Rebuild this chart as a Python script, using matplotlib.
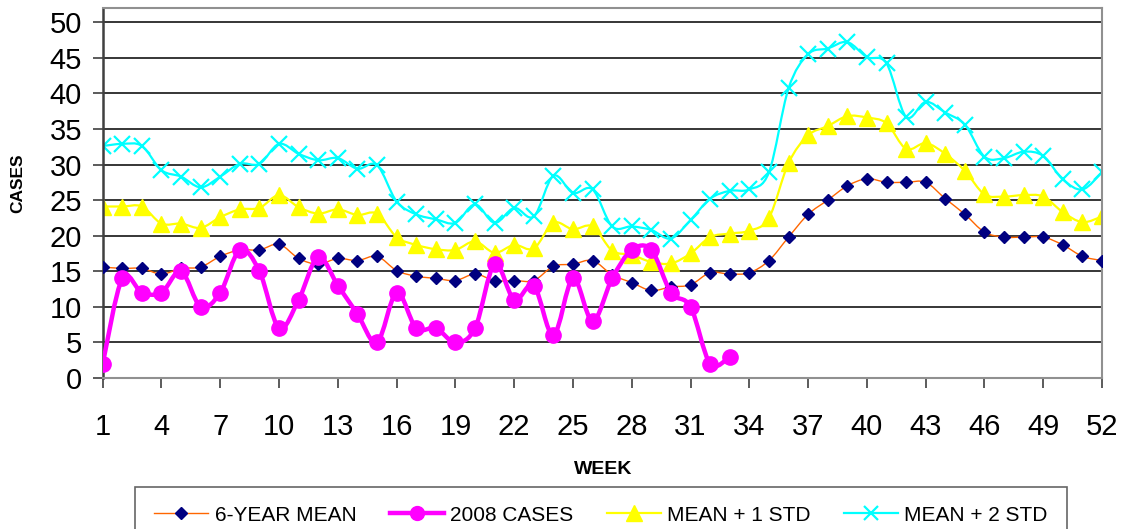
import numpy as np
import matplotlib
matplotlib.use("Agg")
import matplotlib.pyplot as plt
from matplotlib.path import Path
from matplotlib.patches import PathPatch
from matplotlib.lines import Line2D

plt.rcParams["font.family"] = ["Liberation Sans", "DejaVu Sans"]

# ── data ────────────────────────────────────────────────────────────────────
weeks = list(range(1, 53))

mean_6yr = [15.6, 15.4, 15.4, 14.6, 15.4, 15.6, 17.1, 18.0, 18.0, 18.8,
            16.8, 16.0, 16.8, 16.5, 17.1, 15.1, 14.3, 14.0, 13.7, 14.6,
            13.7, 13.7, 13.7, 15.7, 16.0, 16.5, 14.5, 13.4, 12.3, 12.8,
            13.1, 14.8, 14.6, 14.8, 16.5, 19.8, 23.0, 25.0, 27.0, 28.0,
            27.5, 27.5, 27.5, 25.2, 23.0, 20.5, 19.8, 19.8, 19.8, 18.7,
            17.1, 16.5]

mean_1std = [24.1, 24.1, 24.1, 21.7, 21.7, 21.1, 22.6, 23.7, 23.9, 25.7,
             24.0, 23.1, 23.7, 22.9, 23.1, 19.8, 18.7, 18.1, 18.0, 19.2,
             17.6, 18.7, 18.2, 21.8, 20.9, 21.3, 17.9, 17.3, 16.3, 16.1,
             17.5, 19.8, 20.3, 20.7, 22.5, 30.2, 34.1, 35.4, 36.8, 36.6,
             35.8, 32.2, 33.0, 31.5, 29.1, 25.8, 25.5, 25.7, 25.5, 23.3,
             21.9, 22.7]

mean_2std = [32.6, 32.9, 32.6, 29.2, 28.3, 26.8, 28.3, 30.1, 30.1, 32.9,
             31.5, 30.6, 30.9, 29.4, 29.9, 24.8, 23.0, 22.3, 21.8, 24.4,
             21.8, 23.9, 22.7, 28.4, 26.0, 26.5, 21.3, 21.3, 20.8, 19.6,
             22.2, 25.2, 26.3, 26.5, 28.9, 40.7, 45.5, 46.3, 47.2, 45.1,
             44.2, 36.7, 38.8, 37.3, 35.6, 31.1, 30.9, 31.8, 31.2, 27.9,
             26.5, 28.9]

weeks_2008 = list(range(1, 34))
cases_2008 = [2, 14, 12, 12, 15, 10, 12, 18, 15, 7,
              11, 17, 13, 9, 5, 12, 7, 7, 5, 7,
              16, 11, 13, 6, 14, 8, 14, 18, 18, 12,
              10, 2, 3]

x_ticks = list(range(1, 53, 3))
y_ticks = list(range(0, 51, 5))


def smooth_path(x, y):
    """Excel-style smoothed line: cubic Bezier through every point."""
    p = np.column_stack([x, y]).astype(float)
    n = len(p)
    verts = [p[0]]
    codes = [Path.MOVETO]
    for i in range(n - 1):
        p0 = p[i - 1] if i > 0 else p[i]
        p3 = p[i + 2] if i + 2 < n else p[i + 1]
        c1 = p[i] + (p[i + 1] - p0) / 6.0
        c2 = p[i + 1] - (p3 - p[i]) / 6.0
        verts += [c1, c2, p[i + 1]]
        codes += [Path.CURVE4] * 3
    return Path(verts, codes)


def smooth_line(ax, x, y, color, lw, marker, ms, mfc, mec, mew=1.0, z=2):
    ax.add_patch(PathPatch(smooth_path(x, y), facecolor="none",
                           edgecolor=color, lw=lw, zorder=z))
    ax.plot(x, y, linestyle="none", marker=marker, ms=ms,
            mfc=mfc, mec=mec, mew=mew, zorder=z + 0.5)


fig = plt.figure(figsize=(11.25, 5.29), dpi=100)
ax = fig.add_axes([0.0913, 0.2854, 0.9796 - 0.0913, 0.985 - 0.2854])

smooth_line(ax, weeks, mean_2std, "#00FFFF", 1.6, "x", 11, "#00FFFF", "#00FFFF", mew=1.6)
smooth_line(ax, weeks, mean_1std, "#FFFF00", 1.6, "^", 12, "#FFFF00", "#FFFF00")
smooth_line(ax, weeks, mean_6yr, "#FF6600", 1.0, "D", 6.5, "#000080", "#000080", z=3)
smooth_line(ax, weeks_2008, cases_2008, "#FF00FF", 3.2, "o", 11, "#FF00FF", "#FF00FF", z=4)

ax.set_xlim(1, 52)
ax.set_ylim(0, 52)
ax.set_xticks(x_ticks)
ax.set_yticks(y_ticks)
ax.tick_params(axis="both", labelsize=21, length=7, width=1.2, color="#404040")
ax.tick_params(axis="x", pad=18)
ax.tick_params(axis="y", pad=8)
ax.yaxis.grid(True, color="black", lw=1.1)
ax.set_axisbelow(True)

for side in ["top", "right", "bottom"]:
    ax.spines[side].set_color("#909090")
    ax.spines[side].set_linewidth(1.5)
ax.spines["left"].set_color("#404040")
ax.spines["left"].set_linewidth(1.8)

fig.text(17.5 / 1125, 1 - 183 / 529, "CASES", rotation=90, fontsize=12.5,
         fontweight="bold", ha="center", va="center")
fig.text(603 / 1125, 1 - 470 / 529, "WEEK", fontsize=14, fontweight="bold",
         ha="center", va="center")

handles = [
    Line2D([], [], color="#FF6600", lw=1.0, marker="D", ms=6, mfc="#000080", mec="#000080"),
    Line2D([], [], color="#FF00FF", lw=3.2, marker="o", ms=10, mfc="#FF00FF", mec="#FF00FF"),
    Line2D([], [], color="#FFFF00", lw=1.6, marker="^", ms=11, mfc="#FFFF00", mec="#FFFF00"),
    Line2D([], [], color="#00FFFF", lw=1.6, marker="x", ms=10, mec="#00FFFF", mew=1.6),
]
labels = ["6-YEAR MEAN", "2008 CASES", "MEAN + 1 STD", "MEAN + 2 STD"]
leg = fig.legend(handles, labels, loc="upper center", ncol=4,
                 bbox_to_anchor=(601 / 1125, 1 - 487 / 529), fontsize=15,
                 frameon=True, fancybox=False, edgecolor="#404040",
                 handlelength=2.6, handletextpad=0.3, columnspacing=1.6,
                 borderpad=0.9, borderaxespad=0)
leg.get_frame().set_linewidth(1.2)

fig.savefig("out.png", dpi=100)
